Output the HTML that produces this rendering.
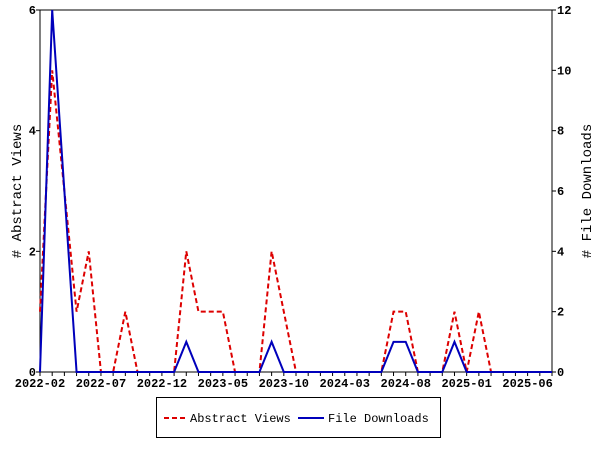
<!DOCTYPE html>
<html><head><meta charset="utf-8"><style>
body{margin:0;background:#fff;width:600px;height:450px;overflow:hidden}
text{font-family:"Liberation Mono",monospace;font-weight:bold;font-size:12px;fill:#000}
</style></head><body>
<svg id="c" width="600" height="450" xmlns="http://www.w3.org/2000/svg"></svg>
<script>
const views=[1,5,3,1,2,0,0,1,0,0,0,0,2,1,1,1,0,0,0,2,1,0,0,0,0,0,0,0,0,1,1,0,0,0,1,0,1,0,0,0,0,0,0];
const downloads=[0,12,6,0,0,0,0,0,0,0,0,0,1,0,0,0,0,0,0,1,0,0,0,0,0,0,0,0,0,1,1,0,0,0,1,0,0,0,0,0,0,0,0];
const xLabels=["2022-02","2022-07","2022-12","2023-05","2023-10","2024-03","2024-08","2025-01","2025-06"];
const yLeftTicks=[0,2,4,6];
const yRightTicks=[0,2,4,6,8,10,12];
const L=40,R=552,T=10,B=372,N=views.length;
const svg=document.getElementById('c');const NS="http://www.w3.org/2000/svg";
const x=i=>L+(R-L)*i/(N-1);
const yl=v=>B-(B-T)*v/6;
const yr=v=>B-(B-T)*v/12;
function mk(tag,a,p){const e=document.createElementNS(NS,tag);for(const k in a)e.setAttribute(k,a[k]);(p||svg).appendChild(e);return e;}
const frame=mk('rect',{x:L,y:T,width:R-L,height:B-T,fill:'none',stroke:'#000','stroke-width':1});


for(let i=0;i<N;i++){const t=mk('line',{x1:x(i),x2:x(i),y1:B,y2:B+4,stroke:'#000'});

}
xLabels.forEach((s,k)=>{const t=mk('text',{x:x(k*5),y:B+15,'text-anchor':'middle'});t.textContent=s;

});
yLeftTicks.forEach(v=>{mk('line',{x1:L-4,x2:L,y1:yl(v),y2:yl(v),stroke:'#000'});const t=mk('text',{x:L-4,y:yl(v)+4,'text-anchor':'end'});t.textContent=v;

});
yRightTicks.forEach(v=>{mk('line',{x1:R,x2:R+4,y1:yr(v),y2:yr(v),stroke:'#000'});const t=mk('text',{x:R+5,y:yr(v)+4});t.textContent=v;

});
const yt=mk('text',{transform:'translate(21,191) rotate(-90)','text-anchor':'middle','font-size':'14','style':'font-weight:normal;font-size:14px'});yt.textContent='# Abstract Views';


const yt2=mk('text',{transform:'translate(591,191) rotate(-90)','text-anchor':'middle','style':'font-weight:normal;font-size:14px'});yt2.textContent='# File Downloads';


const pv=mk('polyline',{points:views.map((v,i)=>x(i)+','+yl(v)).join(' '),fill:'none',stroke:'#d00','stroke-width':2,'stroke-dasharray':'5,3'});


const pd=mk('polyline',{points:downloads.map((v,i)=>x(i)+','+yr(v)).join(' '),fill:'none',stroke:'#00b','stroke-width':2});


const lg=mk('g',{});


mk('rect',{x:156.5,y:397.5,width:284,height:40,fill:'#fff',stroke:'#000'},lg);
mk('line',{x1:164,x2:186,y1:418,y2:418,stroke:'#d00','stroke-width':2,'stroke-dasharray':'5,3'},lg);
const l1=mk('text',{x:190,y:422,style:'font-weight:normal'},lg);l1.textContent='Abstract Views';


mk('line',{x1:298,x2:324,y1:418,y2:418,stroke:'#00b','stroke-width':2},lg);
const l2=mk('text',{x:328,y:422,style:'font-weight:normal'},lg);l2.textContent='File Downloads';


</script>
</body></html>
